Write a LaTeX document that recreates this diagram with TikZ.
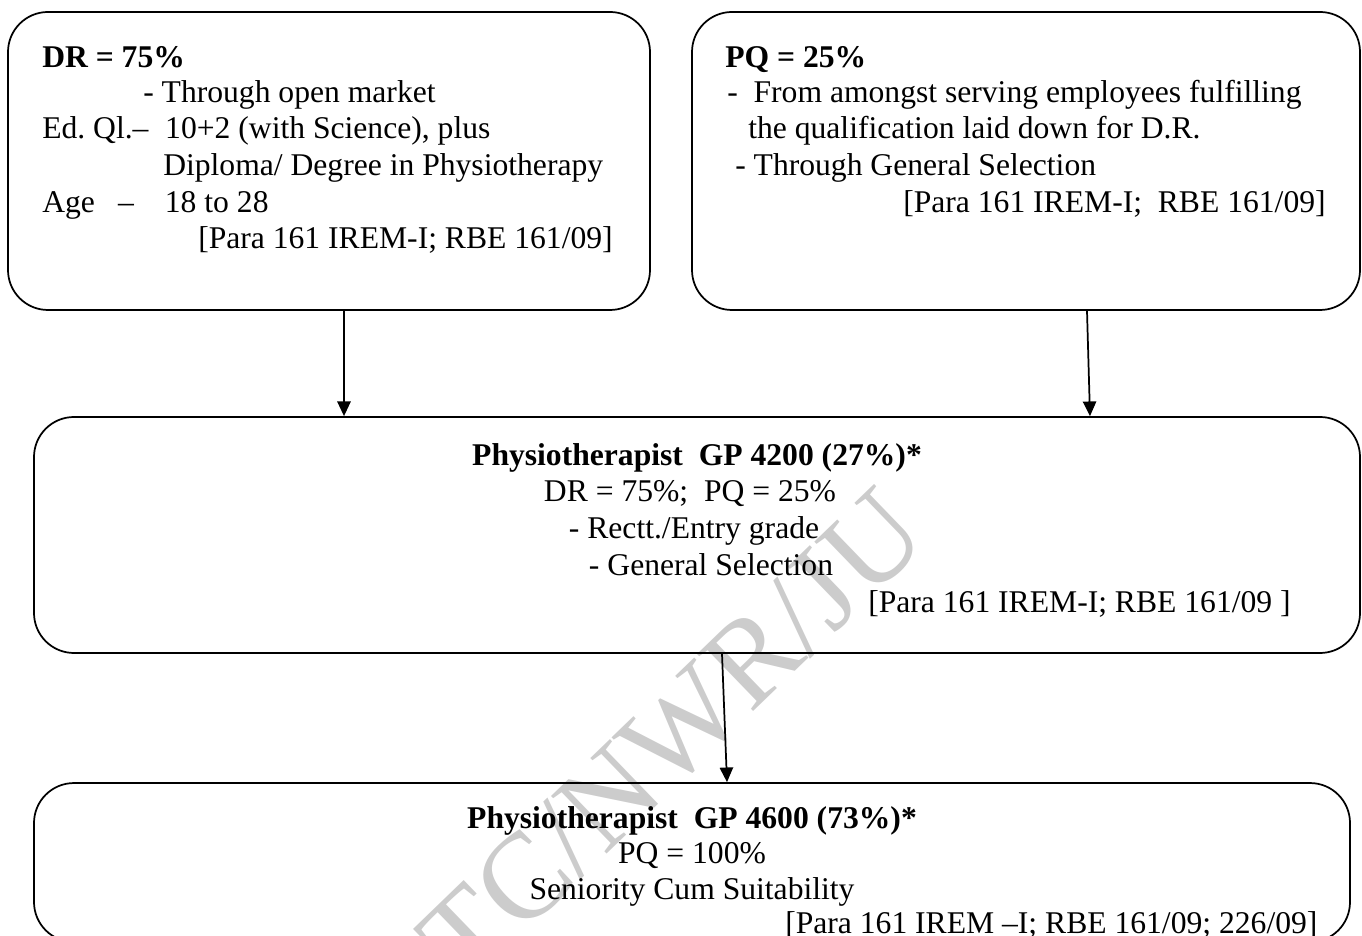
\documentclass[tikz,border=0pt]{standalone}
\usepackage{fontspec}
\setmainfont{Liberation Serif}
\frenchspacing
\usetikzlibrary{arrows.meta}
\tikzset{
  stage/.style={draw,rounded corners=30bp,line width=1.3bp,inner sep=0pt},
  line/.style={inner sep=0pt,anchor=base west,font=\fontsize{23.8}{27.4}\selectfont},
  cline/.style={line,anchor=base},
}
\begin{document}
\begin{tikzpicture}[>={Triangle[length=11bp,width=10bp]},line join=bevel,]
\useasboundingbox (0bp,0bp) rectangle (1021.5bp,702bp);
%%
\node (mark) at (504bp,150bp) [rotate=44,text=black!20,font=\fontsize{92}{92}\selectfont] {TC/NWR/JU};
%
\node (dr_box) at (246.75bp,581.25bp) [stage,minimum width=481.5bp,minimum height=223.5bp] {};
  \node (pq_box) at (769.5bp,581.25bp) [stage,minimum width=501bp,minimum height=223.5bp] {};
  \node (entry_box) at (522.75bp,300.75bp) [stage,minimum width=994.5bp,minimum height=177bp] {};
  \node (senior_box) at (519bp,55.1bp) [stage,minimum width=987bp,minimum height=119.25bp] {};
%
\node (dr_title) at (31.5bp,651.4bp) [line] {\textbf{DR = 75\%}};
  \node (dr_line_1) at (107.25bp,625.1bp) [line] {- Through open market};
  \node (dr_line_2) at (31.5bp,598.1bp) [line] {\makebox[92.25bp][l]{Ed. Ql.–}10+2 (with Science), plus};
  \node (dr_line_3) at (122.25bp,570.4bp) [line] {Diploma/ Degree in Physiotherapy};
  \node (dr_line_4) at (31.5bp,542.6bp) [line] {\makebox[57bp][l]{Age}\makebox[35bp][l]{–}18 to 28};
  \node (dr_ref) at (148.5bp,515.6bp) [line] {[Para 161 IREM-I; RBE 161/09]};
%
\node (pq_title) at (543.75bp,651.4bp) [line] {\textbf{PQ = 25\%}};
  \node (pq_line_1) at (545.25bp,625.1bp) [line] {-~~From amongst serving employees fulfilling};
  \node (pq_line_2) at (561bp,598.1bp) [line] {the qualification laid down for D.R.};
  \node (pq_line_3) at (551.25bp,570.4bp) [line] {- Through General Selection};
  \node (pq_ref) at (677.25bp,542.6bp) [line] {[Para 161 IREM-I;~~RBE 161/09]};
%
\node (entry_title) at (522.75bp,352.9bp) [cline] {\textbf{Physiotherapist~~GP 4200 (27\%)*}};
  \node (entry_line_1) at (517.5bp,325.5bp) [cline] {DR = 75\%;~~PQ = 25\%};
  \node (entry_line_2) at (520.5bp,297.75bp) [cline] {- Rectt./Entry grade};
  \node (entry_line_3) at (533.25bp,270bp) [cline] {- General Selection};
  \node (entry_ref) at (651bp,242.25bp) [line] {[Para 161 IREM-I; RBE 161/09 ]};
%
\node (senior_title) at (519bp,80.25bp) [cline] {\textbf{Physiotherapist~~GP 4600 (73\%)*}};
  \node (senior_line_1) at (519bp,54bp) [cline] {PQ = 100\%};
  \node (senior_line_2) at (519bp,27.4bp) [cline] {Seniority Cum Suitability};
  \node (senior_ref) at (588.75bp,2bp) [line] {[Para 161 IREM –I; RBE 161/09; 226/09]};
%
\draw [black,line width=1.3bp,->] ([xshift=11.25bp]dr_box.south) -- ([xshift=11.25bp]dr_box.south |- entry_box.north);
  \draw [black,line width=1.3bp,->] ([xshift=45.75bp]pq_box.south) -- ([xshift=48bp]pq_box.south |- entry_box.north);
  \draw [black,line width=1.3bp,->] ([xshift=18.75bp]entry_box.south) -- ([xshift=22.5bp]entry_box.south |- senior_box.north);
%
\end{tikzpicture}
\end{document}
